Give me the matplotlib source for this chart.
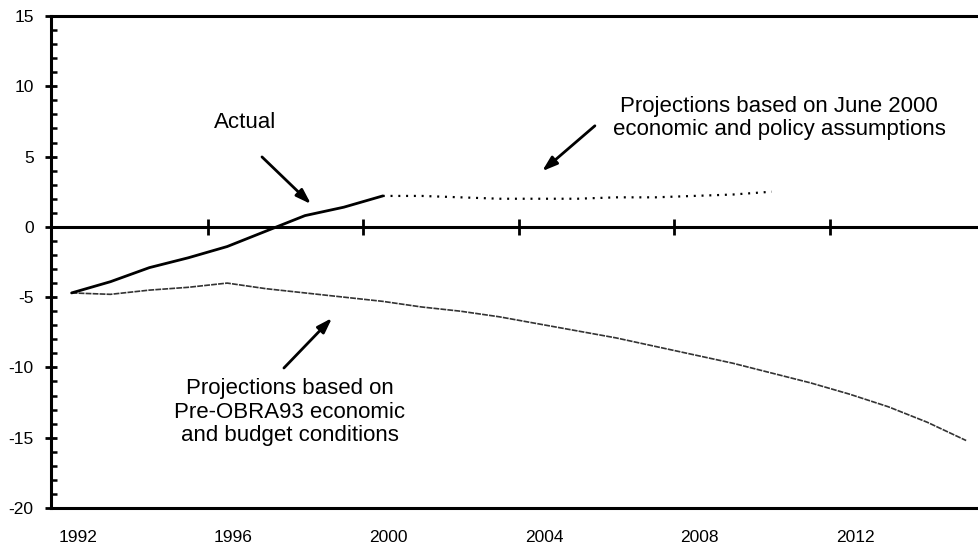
import matplotlib
matplotlib.use("Agg")
import matplotlib.pyplot as plt
import matplotlib.transforms as mtransforms
import numpy as np

plt.rcParams['font.family'] = ['Liberation Sans', 'DejaVu Sans']

# Data (percent of GDP), fiscal years
actual_years = [1992, 1993, 1994, 1995, 1996, 1997, 1998, 1999, 2000]
actual_vals = [-4.7, -3.9, -2.9, -2.2, -1.4, -0.3, 0.8, 1.4, 2.2]

june_years = [2000, 2001, 2002, 2003, 2004, 2005, 2006, 2007, 2008, 2009, 2010]
june_vals = [2.2, 2.2, 2.1, 2.0, 2.0, 2.0, 2.1, 2.1, 2.2, 2.3, 2.5]

pre_years = list(range(1992, 2016))
pre_vals = [-4.7, -4.8, -4.5, -4.3, -4.0, -4.4, -4.7, -5.0, -5.3, -5.7, -6.0,
            -6.4, -6.9, -7.4, -7.9, -8.5, -9.1, -9.7, -10.4, -11.1, -11.9,
            -12.8, -13.9, -15.2]

xtick_years = [1992, 1996, 2000, 2004, 2008, 2012]
ytick_vals = [15, 10, 5, 0, -5, -10, -15, -20]

W, H = 979, 547
fig = plt.figure(figsize=(W / 100, H / 100), dpi=100)
ax = fig.add_axes([51 / W, (H - 508) / H, (W - 51) / W, (508 - 16) / H])

mid = 0.5  # values plotted at mid-year
ax.plot(np.array(pre_years) + mid, pre_vals, color='#333333', lw=1.2,
        linestyle=(0, (3.5, 0.7)))
ax.plot(np.array(june_years) + mid, june_vals, color='black', lw=1.6,
        linestyle=(0, (0.9, 2.6)))
ax.plot(np.array(actual_years) + mid, actual_vals, color='black', lw=2.0,
        solid_capstyle='round')

ax.set_xlim(1991.97, 1992 + (W - 52) / 38.9)
ax.set_ylim(-20, 15)

# zero axis line with crossing ticks
ax.axhline(0, color='black', lw=2.2, zorder=1)
ax.plot(xtick_years[1:], [0] * len(xtick_years[1:]), linestyle='none',
        marker='|', markersize=11, markeredgewidth=2.0, color='black')

for s in ['top', 'bottom', 'left']:
    ax.spines[s].set_linewidth(2.2)
ax.spines['right'].set_visible(False)

ax.set_yticks(ytick_vals)
ax.set_yticklabels([str(v) for v in ytick_vals], fontsize=12.5)
ax.set_yticks(np.arange(-20, 16, 1), minor=True)
ax.tick_params(axis='y', which='major', direction='inout', length=9, width=2, pad=8)
ax.tick_params(axis='y', which='minor', direction='in', length=4, width=1.8)

ax.set_xticks(xtick_years)
ax.set_xticklabels([str(y) for y in xtick_years], fontsize=12.5)
ax.tick_params(axis='x', which='both', length=0, pad=16)
offset = mtransforms.ScaledTranslation(0.06, 0, fig.dpi_scale_trans)
for lbl in ax.get_xticklabels():
    lbl.set_horizontalalignment('left')
    lbl.set_transform(lbl.get_transform() + offset)

# annotations (in pixel-like figure coordinates)
def fpt(x, y):
    return (x / W, 1 - y / H)

arrow = dict(arrowstyle='-|>,head_length=0.9,head_width=0.3', color='black', lw=2)
ax.annotate('', xy=fpt(313, 206), xytext=fpt(260, 155),
            xycoords='figure fraction', textcoords='figure fraction', arrowprops=arrow)
fig.text(245 / W, 1 - 123 / H, 'Actual', ha='center', va='center', fontsize=16)

ax.annotate('', xy=fpt(540, 173), xytext=fpt(597, 124),
            xycoords='figure fraction', textcoords='figure fraction', arrowprops=arrow)
fig.text(779 / W, 1 - 118 / H, 'Projections based on June 2000\neconomic and policy assumptions',
         ha='center', va='center', fontsize=16, linespacing=1.15)

ax.annotate('', xy=fpt(334, 316), xytext=fpt(282, 370),
            xycoords='figure fraction', textcoords='figure fraction', arrowprops=arrow)
fig.text(290 / W, 1 - 412 / H, 'Projections based on\nPre-OBRA93 economic\nand budget conditions',
         ha='center', va='center', fontsize=16, linespacing=1.15)

fig.savefig('out.png', dpi=100)
